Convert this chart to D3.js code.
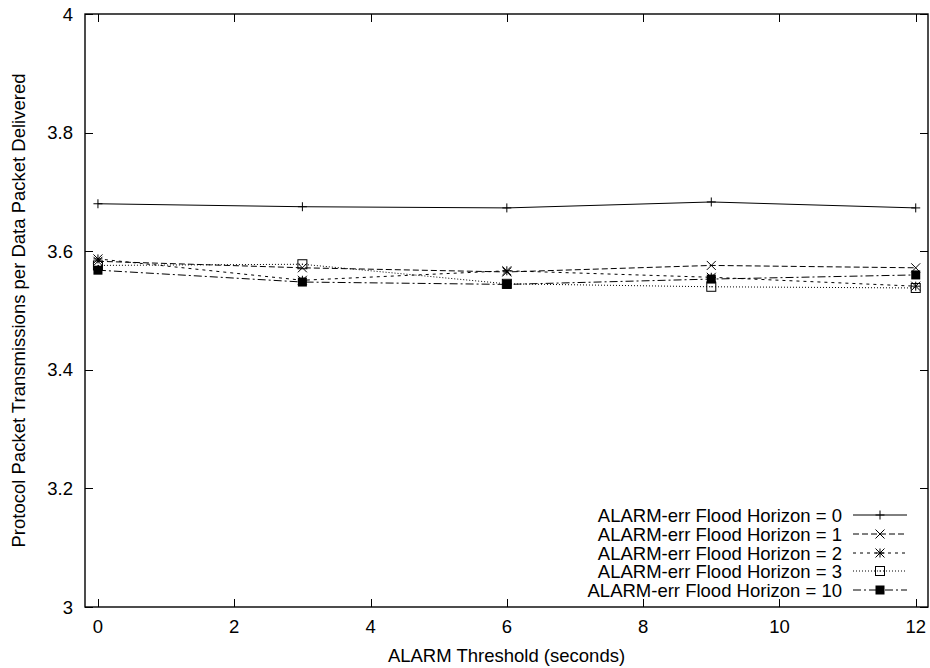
<!DOCTYPE html>
<html>
<head>
<meta charset="utf-8">
<script src="https://cdn.jsdelivr.net/npm/d3@7"></script>
<style>
  html, body { margin: 0; padding: 0; background: #fff; }
  svg { display: block; }
  text { font-family: "Liberation Sans", Arial, Helvetica, sans-serif; fill: #000; }
</style>
</head>
<body>
<svg id="chart" width="930" height="668"></svg>
<script>
// Alarm threshold values (seconds) on the x axis
const thresholds = [0, 3, 6, 9, 12];

// Protocol packet transmissions per delivered data packet, per flood horizon
const horizon0  = [3.680, 3.675, 3.673, 3.683, 3.673];
const horizon1  = [3.583, 3.572, 3.565, 3.576, 3.572];
const horizon2  = [3.587, 3.551, 3.567, 3.556, 3.541];
const horizon3  = [3.576, 3.578, 3.545, 3.540, 3.538];
const horizon10 = [3.568, 3.548, 3.544, 3.553, 3.560];

const seriesNames = [
  "ALARM-err Flood Horizon = 0",
  "ALARM-err Flood Horizon = 1",
  "ALARM-err Flood Horizon = 2",
  "ALARM-err Flood Horizon = 3",
  "ALARM-err Flood Horizon = 10"
];

const xTicks = [0, 2, 4, 6, 8, 10, 12];
const yTicks = [3, 3.2, 3.4, 3.6, 3.8, 4];

const xTitle = "ALARM Threshold (seconds)";
const yTitle = "Protocol Packet Transmissions per Data Packet Delivered";

const seriesValues = [horizon0, horizon1, horizon2, horizon3, horizon10];
const dashes = [null, "6,3", "3,4", "1,2", "8,3,2,3"];
const markers = ["plus", "cross", "star", "boxOpen", "boxFilled"];

const svg = d3.select("#chart");
const plotLeft = 85, plotRight = 928, plotTop = 14, plotBottom = 607;
const fontSize = 18.5;

const x = d3.scaleLinear().domain([-0.19, 12.18]).range([plotLeft, plotRight]);
const y = d3.scaleLinear().domain([3, 4]).range([plotBottom, plotTop]);

const tickLen = 8;
const g = svg.append("g");

// frame
g.append("rect")
  .attr("x", plotLeft).attr("y", plotTop)
  .attr("width", plotRight - plotLeft).attr("height", plotBottom - plotTop)
  .attr("fill", "none").attr("stroke", "#000").attr("stroke-width", 1.4);

// x ticks on bottom and top (inward)
xTicks.forEach(t => {
  const px = Math.round(x(t)) + 0.5;
  g.append("line").attr("x1", px).attr("x2", px).attr("y1", plotBottom).attr("y2", plotBottom - tickLen)
    .attr("stroke", "#000").attr("stroke-width", 1);
  g.append("line").attr("x1", px).attr("x2", px).attr("y1", plotTop).attr("y2", plotTop + tickLen)
    .attr("stroke", "#000").attr("stroke-width", 1);
  g.append("text").attr("x", x(t)).attr("y", 633)
    .attr("text-anchor", "middle").attr("font-size", fontSize).text(d3.format("d")(t));
});

// y ticks on left and right (inward)
yTicks.forEach(t => {
  const py = Math.round(y(t)) + 0.5;
  g.append("line").attr("x1", plotLeft).attr("x2", plotLeft + tickLen).attr("y1", py).attr("y2", py)
    .attr("stroke", "#000").attr("stroke-width", 1);
  g.append("line").attr("x1", plotRight).attr("x2", plotRight - tickLen).attr("y1", py).attr("y2", py)
    .attr("stroke", "#000").attr("stroke-width", 1);
  g.append("text").attr("x", 73).attr("y", y(t) + 6.5)
    .attr("text-anchor", "end").attr("font-size", fontSize)
    .text(t === 3 || t === 4 ? d3.format("d")(t) : d3.format(".1f")(t));
});

// axis titles
g.append("text").attr("x", (plotLeft + plotRight) / 2).attr("y", 662)
  .attr("text-anchor", "middle").attr("font-size", fontSize).text(xTitle);
g.append("text")
  .attr("transform", `translate(25,${(plotTop + plotBottom) / 2}) rotate(-90)`)
  .attr("text-anchor", "middle").attr("font-size", fontSize).text(yTitle);

function drawMarker(sel, kind, cx, cy) {
  const s = 4.5;
  const line = (x1, y1, x2, y2) => {
    sel.append("line").attr("x1", x1).attr("y1", y1).attr("x2", x2).attr("y2", y2)
      .attr("stroke", "#000").attr("stroke-width", 1);
  };
  if (kind === "plus" || kind === "star") {
    line(cx - s, cy, cx + s, cy);
    line(cx, cy - s, cx, cy + s);
  }
  if (kind === "cross" || kind === "star") {
    line(cx - s, cy - s, cx + s, cy + s);
    line(cx - s, cy + s, cx + s, cy - s);
  }
  if (kind === "boxOpen") {
    sel.append("rect").attr("x", cx - s).attr("y", cy - s).attr("width", 2 * s).attr("height", 2 * s)
      .attr("fill", "none").attr("stroke", "#000").attr("stroke-width", 1);
    sel.append("rect").attr("x", cx - 0.5).attr("y", cy - 0.5).attr("width", 1).attr("height", 1).attr("fill", "#000");
  }
  if (kind === "boxFilled") {
    sel.append("rect").attr("x", cx - s).attr("y", cy - s).attr("width", 2 * s).attr("height", 2 * s)
      .attr("fill", "#000");
  }
}

const lineGen = d3.line().x(d => x(d[0])).y(d => y(d[1]));

seriesValues.forEach((vals, i) => {
  const pts = thresholds.map((t, j) => [t, vals[j]]);
  const sg = g.append("g");
  sg.append("path").attr("d", lineGen(pts))
    .attr("fill", "none").attr("stroke", "#000").attr("stroke-width", 1)
    .attr("stroke-dasharray", dashes[i]);
  pts.forEach(p => drawMarker(sg, markers[i], x(p[0]), y(p[1])));
});

// legend
const legendRowY = [515, 534, 553, 571, 590];
seriesNames.forEach((name, i) => {
  const ly = legendRowY[i];
  g.append("text").attr("x", 842).attr("y", ly + 6.5)
    .attr("text-anchor", "end").attr("font-size", fontSize).text(name);
  g.append("line").attr("x1", 853).attr("x2", 907).attr("y1", ly).attr("y2", ly)
    .attr("stroke", "#000").attr("stroke-width", 1).attr("stroke-dasharray", dashes[i]);
  drawMarker(g, markers[i], 880, ly);
});
</script>
</body>
</html>
